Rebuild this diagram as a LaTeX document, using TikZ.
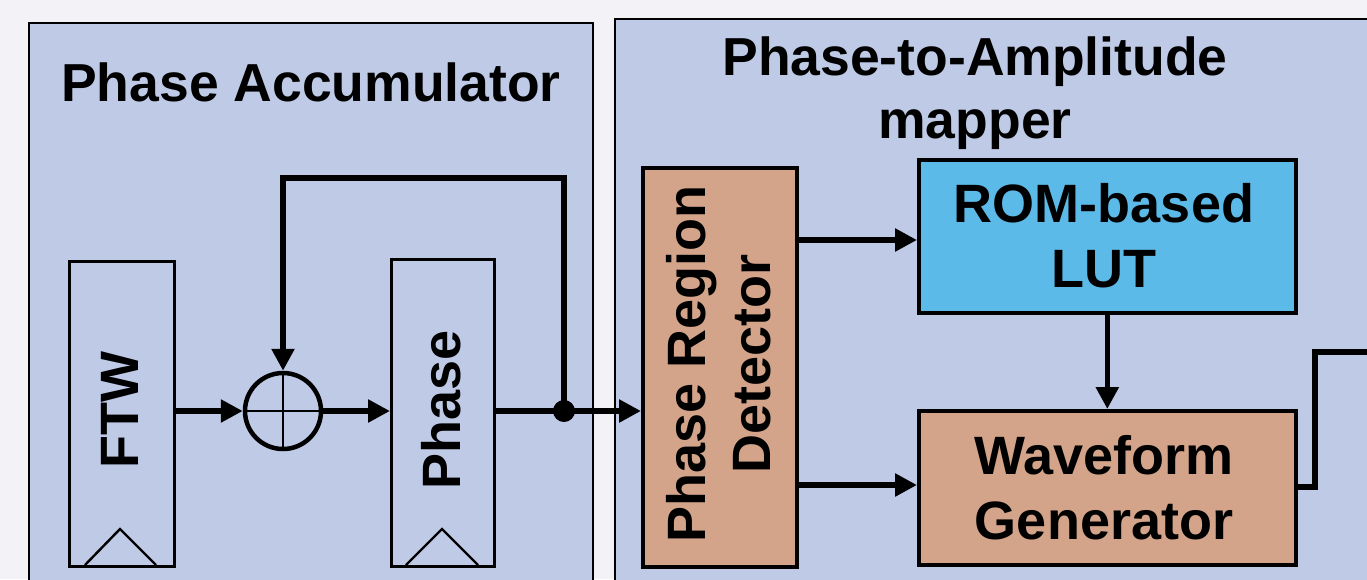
\documentclass[tikz,border=0pt]{standalone}
\usepackage{fontspec}
\setmainfont{Liberation Sans}
\usetikzlibrary{arrows.meta}
\begin{document}
\definecolor{pagebg}{RGB}{243,242,247}
\definecolor{panelfill}{RGB}{190,202,230}
\definecolor{salmon}{RGB}{212,164,138}
\definecolor{lutblue}{RGB}{92,186,232}
\tikzset{
  panel/.style={draw=black, line width=1.6pt, fill=panelfill, anchor=north west, inner sep=0pt},
  reg/.style={draw=black, line width=3pt, anchor=north west, inner sep=0pt},
  block/.style={draw=black, line width=3.6pt, anchor=north west, inner sep=0pt},
  label/.style={font=\bfseries\fontsize{54}{65}\selectfont, align=center, inner sep=0pt},
  title/.style={font=\bfseries\fontsize{53.5}{63}\selectfont, align=center, inner sep=0pt},
  wire/.style={line width=5.5pt, line join=miter},
  flow/.style={wire, -{Triangle[length=22pt,width=22pt]}},
  clk/.style={line width=2.4pt, line join=miter},
}
\begin{tikzpicture}[x=1pt,y=-1pt]
\useasboundingbox (0,0) rectangle (1367,579);
\clip (0,0) rectangle (1367,579);
\fill[pagebg] (0,0) rectangle (1367,579);

% panels
\node[panel, minimum width=564pt, minimum height=620pt] (acc) at (28,22) {};
\node[panel, minimum width=800pt, minimum height=620pt] (map) at (614,18) {};
\node[title] (acctitle) at (311,82) {Phase Accumulator};
\node[title] (maptitle) at (975,93) {Phase-to-Amplitude\\mapper};

% accumulator
\node[reg, minimum width=105pt, minimum height=305pt] (ftw) at (68,260) {};
\node[label, rotate=90] (ftwtext) at (120,410) {FTW};
\node[reg, minimum width=103pt, minimum height=307pt] (phase) at (390,258) {};
\node[label, rotate=90] (phasetext) at (441,410) {Phase};
\draw[clk] (85,565) -- (120,529) -- (156,565);
\draw[clk] (406,565) -- (442,529) -- (478,565);

\node[circle, draw=black, line width=4.5pt, minimum size=76pt, inner sep=0pt] (adder) at (283,411) {};
\draw[line width=2pt] (adder.north) -- (adder.south);
\draw[line width=2pt] (adder.west) -- (adder.east);

\coordinate (tap) at (564,411);
\coordinate (fbtop) at (564,178);

\draw[flow] (ftw.east |- adder) -- (adder.west);
\draw[flow] (adder.east) -- (phase.west |- adder);
\draw[wire] (phase.east |- tap) -- (tap);
\draw[flow] (tap) -- (fbtop) -| (adder.north);

% mapper
\node[block, fill=salmon, minimum width=154pt, minimum height=399pt] (prd) at (641,166) {};
\node[label, rotate=90] (prdtext) at (719,364) {Phase Region\\Detector};
\node[block, fill=lutblue, minimum width=377pt, minimum height=153pt] (lut) at (917,158) {};
\node[label] (luttext) at (1104,236) {ROM-based\\LUT};
\node[block, fill=salmon, minimum width=377pt, minimum height=154pt] (wg) at (917,409) {};
\node[label] (wgtext) at (1104,488) {Waveform\\Generator};

\draw[flow] (tap) -- (prd.west |- tap);
\fill (tap) circle (11pt);

\coordinate (r1) at (0,240);
\coordinate (r2) at (0,485);
\draw[flow] (prd.east |- r1) -- (lut.west |- r1);
\draw[flow] (prd.east |- r2) -- (wg.west |- r2);
\draw[flow] (lut.south) -- (wg.north);

\coordinate (bend) at (1315,487);
\coordinate (out) at (1380,352);
\draw[wire] (wg.east |- bend) -- (bend) |- (out);
\end{tikzpicture}
\end{document}
